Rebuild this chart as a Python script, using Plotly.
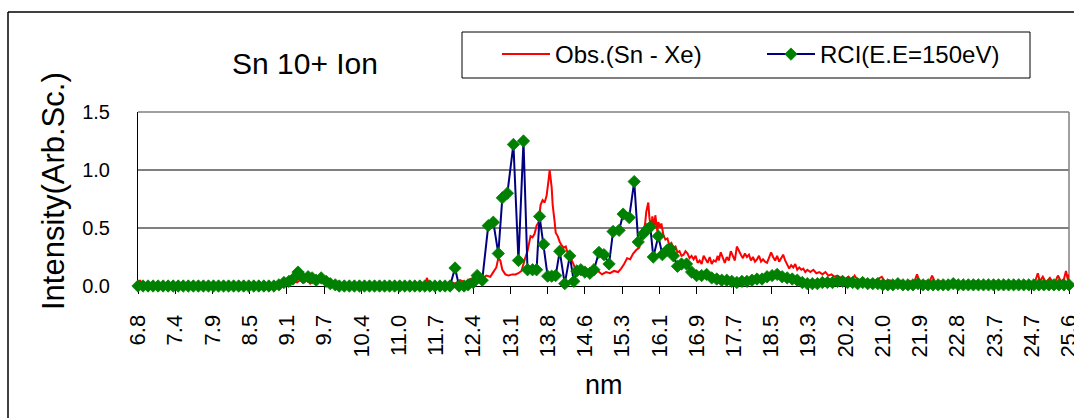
import plotly.graph_objects as go

# Wavelength (nm) printed under every 37th detector channel
wavelength_labels = ["6.8", "7.4", "7.9", "8.5", "9.1", "9.7", "10.4", "11.0", "11.7",
                     "12.4", "13.1", "13.8", "14.6", "15.3", "16.1", "16.9", "17.7",
                     "18.5", "19.3", "20.2", "21.0", "21.9", "22.8", "23.7", "24.7", "25.6"]
channels_per_label = 37

# Observed Sn-Xe spectrum (channel, relative intensity)
obs_channel = [
    0, 2, 4, 7, 141, 146, 150, 154, 158, 161, 165, 168, 171, 174,
    177, 181, 186, 191, 196, 285, 287, 289, 292, 305, 310, 315, 320, 325,
    330, 334, 338, 342, 346, 350, 353, 356, 358, 360, 362, 365, 368, 372,
    375, 378, 381, 383, 385, 387, 389, 390, 392, 394, 396, 398, 400, 402,
    404, 406, 408, 409, 411, 412, 414, 415, 417, 419, 421, 423, 425, 427,
    429, 431, 434, 437, 441, 445, 449, 453, 457, 461, 465, 469, 473, 477,
    480, 483, 486, 489, 492, 495, 498, 500, 502, 504, 505, 507, 508, 510,
    511, 513, 514, 516, 517, 519, 520, 522, 524, 526, 528, 530, 532, 534,
    536, 538, 540, 542, 544, 546, 548, 550, 552, 554, 556, 558, 560, 562,
    564, 566, 568, 570, 572, 574, 576, 577, 579, 581, 583, 585, 587, 589,
    591, 593, 595, 597, 599, 601, 603, 605, 607, 609, 611, 613, 615, 617,
    619, 621, 623, 625, 627, 629, 631, 633, 635, 637, 639, 641, 643, 645,
    647, 649, 651, 653, 655, 657, 659, 661, 663, 665, 668, 671, 674, 677,
    680, 683, 686, 689, 692, 695, 698, 700, 703, 706, 709, 712, 715, 719,
    723, 727, 731, 735, 739, 742, 747, 752, 757, 762, 767, 771, 774, 777,
    782, 786, 789, 792, 797, 802, 807, 812, 817, 822, 827, 832, 837, 842,
    847, 852, 856, 861, 866, 871, 876, 881, 886, 891, 894, 896, 899, 902,
    906, 909, 912, 914, 917, 920, 922, 924, 925,
]
obs_intensity = [
    0.00, 0.05, 0.02, 0.00, 0.00, 0.02, 0.01, 0.04, 0.03, 0.05, 0.03, 0.05, 0.02, 0.06,
    0.03, 0.04, 0.02, 0.03, 0.00, 0.00, 0.07, 0.02, 0.00, 0.01, 0.04, 0.02, 0.05, 0.03,
    0.06, 0.04, 0.07, 0.06, 0.09, 0.08, 0.12, 0.16, 0.24, 0.22, 0.14, 0.10, 0.09, 0.10,
    0.10, 0.11, 0.13, 0.20, 0.25, 0.30, 0.38, 0.43, 0.42, 0.45, 0.52, 0.55, 0.70, 0.74,
    0.72, 0.78, 0.92, 1.00, 0.85, 0.70, 0.55, 0.46, 0.43, 0.38, 0.35, 0.33, 0.34, 0.28,
    0.30, 0.22, 0.16, 0.14, 0.12, 0.10, 0.12, 0.11, 0.13, 0.10, 0.12, 0.11, 0.13, 0.12,
    0.15, 0.19, 0.24, 0.23, 0.28, 0.31, 0.33, 0.40, 0.44, 0.55, 0.64, 0.72, 0.60, 0.47,
    0.60, 0.52, 0.61, 0.47, 0.55, 0.50, 0.54, 0.44, 0.40, 0.41, 0.35, 0.37, 0.33, 0.34,
    0.29, 0.30, 0.26, 0.27, 0.30, 0.28, 0.24, 0.26, 0.23, 0.26, 0.20, 0.22, 0.19, 0.26,
    0.23, 0.20, 0.25, 0.19, 0.22, 0.21, 0.26, 0.22, 0.29, 0.24, 0.20, 0.25, 0.22, 0.30,
    0.26, 0.22, 0.34, 0.30, 0.27, 0.24, 0.28, 0.25, 0.27, 0.22, 0.25, 0.21, 0.23, 0.26,
    0.21, 0.23, 0.21, 0.20, 0.24, 0.29, 0.25, 0.22, 0.26, 0.21, 0.24, 0.27, 0.22, 0.18,
    0.15, 0.18, 0.16, 0.19, 0.14, 0.16, 0.14, 0.15, 0.12, 0.14, 0.12, 0.14, 0.11, 0.12,
    0.10, 0.12, 0.09, 0.10, 0.08, 0.09, 0.07, 0.08, 0.06, 0.08, 0.05, 0.09, 0.05, 0.06,
    0.04, 0.05, 0.04, 0.06, 0.08, 0.04, 0.05, 0.03, 0.04, 0.03, 0.04, 0.03, 0.10, 0.03,
    0.04, 0.03, 0.09, 0.03, 0.04, 0.02, 0.03, 0.04, 0.02, 0.03, 0.02, 0.04, 0.02, 0.03,
    0.02, 0.04, 0.02, 0.03, 0.02, 0.03, 0.02, 0.03, 0.02, 0.03, 0.11, 0.04, 0.08, 0.03,
    0.07, 0.03, 0.05, 0.09, 0.04, 0.06, 0.13, 0.05, 0.10,
]

# RCI calculation, electron energy 150 eV (channel, relative intensity)
rci_channel = [
    0, 5, 10, 15, 20, 25, 30, 35, 40, 45, 50, 55, 60, 65,
    70, 75, 80, 85, 90, 95, 100, 105, 110, 115, 120, 125, 130, 135,
    140, 145, 150, 154, 159, 164, 169, 173, 177, 182, 187, 191, 196, 200,
    205, 210, 215, 220, 225, 230, 235, 240, 245, 250, 255,
    260, 265, 270, 275, 280, 285, 290, 295, 300, 305, 310,
    315, 319, 324, 328, 333, 337, 342, 348, 353, 358, 362, 367, 373, 378,
    383, 387, 392, 396, 399, 403, 407, 411, 415, 419, 424, 429, 433, 436,
    440, 444, 449, 453, 458, 463, 468, 472, 478, 482, 488, 493, 497, 502,
    506, 509, 512, 517, 521, 526, 529, 532, 536, 540, 545, 550,
    555, 560, 565, 570, 575, 580, 585, 590, 595, 600, 605, 610, 615, 620,
    625, 630, 635, 640, 645, 650, 655, 660, 665, 670, 675, 680, 685, 690,
    695, 700, 705, 710, 715, 720, 725, 730, 735, 740, 745, 750, 755, 760,
    765, 770, 775, 780, 785, 790, 795, 800, 805, 810, 815, 820, 825, 830,
    835, 840, 845, 850, 855, 860, 865, 870, 875, 880, 885, 890, 895, 900,
    905, 910, 915, 920, 925,
]
rci_intensity = [
    0, 0, 0, 0, 0, 0, 0, 0, 0, 0, 0, 0, 0, 0,
    0, 0, 0, 0, 0, 0, 0, 0, 0, 0, 0, 0, 0, 0,
    0.01, 0.03, 0.04, 0.06, 0.12, 0.07, 0.08, 0.07, 0.05, 0.07, 0.04, 0.02, 0.01, 0,
    0, 0, 0, 0, 0, 0, 0, 0, 0, 0, 0,
    0, 0, 0, 0, 0, 0, 0, 0, 0, 0, 0,
    0.155, 0, 0, 0.01, 0.03, 0.09, 0.05, 0.52, 0.55, 0.28, 0.76, 0.80, 1.22, 0.22,
    1.25, 0.14, 0.14, 0.14, 0.60, 0.36, 0.085, 0.085, 0.09, 0.30, 0.02, 0.26, 0.04, 0.13,
    0.14, 0.12, 0.11, 0.14, 0.29, 0.27, 0.19, 0.47, 0.48, 0.62, 0.59, 0.90, 0.38, 0.45,
    0.49, 0.51, 0.25, 0.43, 0.27, 0.31, 0.32, 0.26, 0.17, 0.19, 0.19, 0.12,
    0.09, 0.09, 0.10, 0.07, 0.06, 0.05, 0.05, 0.04, 0.03, 0.04, 0.04, 0.05, 0.06, 0.06,
    0.08, 0.09, 0.10, 0.08, 0.07, 0.06, 0.05, 0.03, 0.02, 0.02, 0.02, 0.03, 0.03, 0.03,
    0.04, 0.04, 0.03, 0.03, 0.02, 0.03, 0.02, 0.02, 0.02, 0.01, 0.01, 0.01, 0.02, 0.01,
    0.01, 0.01, 0.02, 0.01, 0.01, 0.01, 0.01, 0.01, 0.01, 0.02, 0.01, 0.01, 0.01, 0.01,
    0.01, 0.01, 0.01, 0.01, 0.01, 0.01, 0.01, 0.01, 0.01, 0.01, 0.01, 0.01, 0.01, 0.01,
    0.01, 0.01, 0.01, 0.01, 0.01,
]

y_ticks = [0.0, 0.5, 1.0, 1.5]
grid_levels = [0.5, 1.0]

FONT = "Liberation Sans, Arial, sans-serif"
W, H = 1074, 418
L, R, T, B = 138, 5, 112, 132
PW, PH = W - L - R, H - T - B


def px_x(x):
    return (x - L) / PW


def px_y(y):
    return (H - B - y) / PH


fig = go.Figure()
fig.add_trace(go.Scatter(
    x=obs_channel, y=obs_intensity, mode="lines", name="Obs.(Sn - Xe)",
    line=dict(color="#FF0000", width=2), cliponaxis=False,
))
fig.add_trace(go.Scatter(
    x=rci_channel, y=rci_intensity, mode="lines+markers", name="RCI(E.E=150eV)",
    line=dict(color="#000080", width=2),
    marker=dict(symbol="diamond", size=9.5, color="#008000",
                line=dict(width=0.8, color="#008000")),
    cliponaxis=False,
))

n_last = channels_per_label * (len(wavelength_labels) - 1)
fig.update_xaxes(
    range=[0, n_last],
    tickmode="array",
    tickvals=[i * channels_per_label for i in range(len(wavelength_labels))],
    ticktext=wavelength_labels,
    tickangle=-90,
    ticks="outside", ticklen=7, tickcolor="black", tickwidth=1,
    showline=True, linecolor="black", linewidth=1,
    showgrid=False, zeroline=False,
    tickfont=dict(family=FONT, size=22, color="black"),
    ticklabelstandoff=12,
    ticklabeloverflow="allow",
    automargin=False,
    layer="below traces",
)
fig.update_yaxes(
    range=[0, 1.5],
    tickmode="array", tickvals=y_ticks, tickformat=".1f",
    ticks="", showline=True, linecolor="black", linewidth=1,
    showgrid=False, zeroline=False,
    tickfont=dict(family=FONT, size=20, color="black"),
    ticklabelstandoff=23,
    automargin=False,
    layer="below traces",
)

shapes = []
for g in grid_levels:
    shapes.append(dict(type="line", xref="paper", yref="y", x0=0, x1=1, y0=g, y1=g,
                       line=dict(color="black", width=1), layer="below"))
# plot-area border (top and right)
shapes.append(dict(type="line", xref="paper", yref="paper", x0=0, x1=1, y0=1, y1=1,
                   line=dict(color="#808080", width=1.5), layer="below"))
shapes.append(dict(type="line", xref="paper", yref="paper", x0=1, x1=1, y0=0, y1=1,
                   line=dict(color="#808080", width=1.5), layer="below"))
# chart frame
shapes.append(dict(type="line", xref="paper", yref="paper",
                   x0=px_x(8), x1=px_x(W + 5), y0=px_y(12), y1=px_y(12),
                   line=dict(color="black", width=1.5)))
shapes.append(dict(type="line", xref="paper", yref="paper",
                   x0=px_x(8), x1=px_x(8), y0=px_y(12), y1=px_y(H + 5),
                   line=dict(color="black", width=1.5)))
# legend box
shapes.append(dict(type="rect", xref="paper", yref="paper",
                   x0=px_x(462), x1=px_x(1030), y0=px_y(78), y1=px_y(32),
                   line=dict(color="black", width=1)))

annotations = [
    dict(text="Sn 10+ Ion", xref="paper", yref="paper", x=px_x(305), y=px_y(64),
         xanchor="center", yanchor="middle", showarrow=False,
         font=dict(family=FONT, size=30, color="black")),
    dict(text="Intensity(Arb.Sc.)", xref="paper", yref="paper", x=px_x(53), y=px_y(191),
         xanchor="center", yanchor="middle", textangle=-90, showarrow=False,
         font=dict(family=FONT, size=31, color="black")),
    dict(text="nm", xref="paper", yref="paper", x=px_x(604), y=px_y(385),
         xanchor="center", yanchor="middle", showarrow=False,
         font=dict(family=FONT, size=27, color="black")),
]

fig.update_layout(
    width=W, height=H,
    margin=dict(l=L, r=R, t=T, b=B, pad=0, autoexpand=False),
    paper_bgcolor="white", plot_bgcolor="white",
    font=dict(family=FONT, color="black"),
    showlegend=True,
    legend=dict(
        orientation="h", x=px_x(497), y=px_y(32), xanchor="left", yanchor="top",
        bgcolor="rgba(0,0,0,0)", borderwidth=0,
        font=dict(family=FONT, size=24, color="black"),
        itemwidth=48, entrywidth=202, entrywidthmode="pixels",
    ),
    shapes=shapes,
    annotations=annotations,
)

fig.write_html("out.html")
